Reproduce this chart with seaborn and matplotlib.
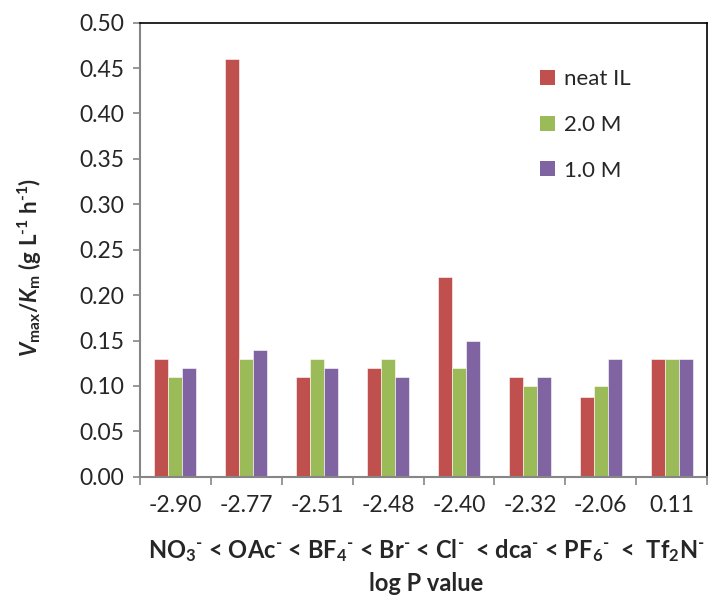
import matplotlib
matplotlib.use("Agg")
import matplotlib.pyplot as plt
import seaborn as sns
import pandas as pd
import numpy as np
from matplotlib.patches import Patch
from matplotlib.ticker import FixedLocator, MultipleLocator

categories = ["-2.90", "-2.77", "-2.51", "-2.48", "-2.40", "-2.32", "-2.06", "0.11"]
series = ["neat IL", "2.0 M", "1.0 M"]
neat_il = [0.13, 0.46, 0.11, 0.12, 0.22, 0.11, 0.088, 0.13]
m20 = [0.11, 0.13, 0.13, 0.13, 0.12, 0.10, 0.10, 0.13]
m10 = [0.12, 0.14, 0.12, 0.11, 0.15, 0.11, 0.13, 0.13]
colors = ["#C0504D", "#9BBB59", "#8064A2"]

sns.set_style("white")
plt.rcParams['font.family'] = ['Lato', 'DejaVu Sans']
plt.rcParams['mathtext.fontset'] = 'custom'
plt.rcParams['mathtext.rm'] = 'Lato:bold'
plt.rcParams['mathtext.it'] = 'Lato:bold:italic'
plt.rcParams['mathtext.bf'] = 'Lato:bold'

rows = []
for s, vals in zip(series, [neat_il, m20, m10]):
    for c, v in zip(categories, vals):
        rows.append({"logP": c, "value": v, "series": s})
df = pd.DataFrame(rows)

W, H = 710, 596
fig = plt.figure(figsize=(W / 100, H / 100), dpi=100)
ax = fig.add_axes([0.197, 0.200, 0.799, 0.762])
sns.barplot(data=df, x="logP", y="value", hue="series", order=categories,
            hue_order=series, palette=colors, width=0.59, gap=0, saturation=1,
            edgecolor="white", linewidth=0.4, ax=ax, legend=False)

ax.set_ylim(0, 0.5)
ax.set_xlim(-0.5, len(categories) - 0.5)
ax.yaxis.set_major_locator(MultipleLocator(0.05))
ax.set_yticklabels([f"{t:.2f}" for t in ax.get_yticks()])
ax.tick_params(axis='y', which='major', direction='out', length=5, width=1.2,
               color='#868686', labelsize=16.5, pad=6, left=True)
ax.tick_params(axis='x', which='major', length=0, labelsize=16.5, pad=13)
ax.xaxis.set_minor_locator(FixedLocator(np.arange(-0.5, len(categories), 1.0)))
ax.tick_params(axis='x', which='minor', direction='out', length=6, width=1.2,
               color='#868686', bottom=True)

for side in ['left', 'bottom']:
    ax.spines[side].set_color('#868686')
    ax.spines[side].set_linewidth(1.5)
for side in ['top', 'right']:
    ax.spines[side].set_color('black')
    ax.spines[side].set_linewidth(1.2)
    ax.spines[side].set_visible(True)

ax.set_ylabel(r"$\mathit{V}_{\mathrm{max}}/\mathit{K}_{\mathrm{m}}$ (g L$^{\text{-1}}$ h$^{\text{-1}}$)",
              fontsize=16, fontweight='bold')
ax.yaxis.set_label_coords(30 / W, 1 - 267 / H, transform=fig.transFigure)
ax.yaxis.label.set_va('center')

m = r"$^{\text{-}}$"
xl = ("NO$_3$" + m + " < OAc" + m + " < BF$_4$" + m + " < Br" + m + " < Cl" + m +
      "  < dca" + m + " < PF$_6$" + m + "  <  Tf$_2$N" + m + "\nlog P value")
ax.set_xlabel(xl, fontsize=17, fontweight='bold', linespacing=1.45)
ax.xaxis.set_label_coords(426 / W, 1 - 566 / H, transform=fig.transFigure)
ax.xaxis.label.set_va('center')

handles = [Patch(facecolor=c, edgecolor='none') for c in colors]
ax.legend(handles, series, loc='upper left', bbox_to_anchor=(0.733, 0.917),
          bbox_transform=fig.transFigure, frameon=False, fontsize=16,
          handlelength=0.65, handleheight=0.65, handletextpad=0.4, labelspacing=1.15)

fig.savefig("out.png", dpi=100)
